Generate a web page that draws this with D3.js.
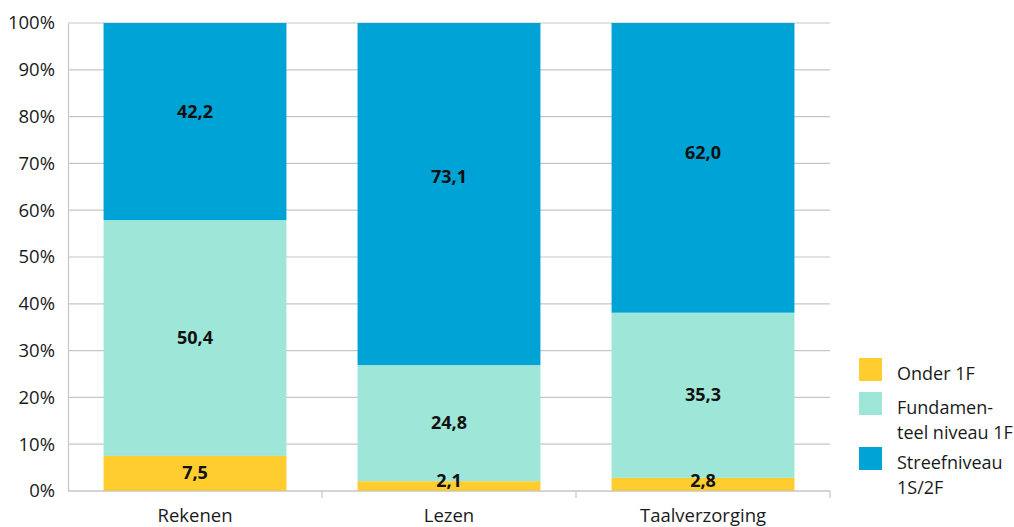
<!DOCTYPE html>
<html>
<head>
<meta charset="utf-8">
<script src="https://cdn.jsdelivr.net/npm/d3@7"></script>
<style>
  body { margin: 0; background: #fff; }
  text { font-family: "Open Sans", "Noto Sans", sans-serif; }
</style>
</head>
<body>
<div class="canvas"></div>
<script>
const categories = ['Rekenen', 'Lezen', 'Taalverzorging'];
const series = ['Onder 1F', 'Fundamenteel niveau 1F', 'Streefniveau 1S/2F'];
const onder = [7.5, 2.1, 2.8];
const fundamenteel = [50.4, 24.8, 35.3];
const streef = [42.2, 73.1, 62.0];
const yTicks = [0, 10, 20, 30, 40, 50, 60, 70, 80, 90, 100];
const legendLines = [['Onder 1F'], ['Fundamen-', 'teel niveau 1F'], ['Streefniveau', '1S/2F']];
const colors = ['#ffcd2e', '#9ee7d8', '#00a3d5'];

const svg = d3.select('.canvas')
  .append('svg')
  .attr('width', 1014)
  .attr('height', 527);

const x = d3.scaleBand()
  .domain(categories)
  .range([68, 830])
  .paddingInner(0.28)
  .paddingOuter(0.14);

const y = d3.scaleLinear()
  .domain([0, 100])
  .range([491, 23])
  .clamp(true);

// gridlines
svg.append('g')
  .selectAll('line')
  .data(yTicks)
  .join('line')
  .attr('x1', 68)
  .attr('x2', 830)
  .attr('y1', d => y(d))
  .attr('y2', d => y(d))
  .attr('stroke', '#c6c6c6')
  .attr('stroke-width', 1.2);

// y axis
const yAxis = svg.append('g')
  .attr('transform', 'translate(68,0)')
  .call(d3.axisLeft(y).tickValues(yTicks).tickFormat(d => d + '%').tickSize(0).tickPadding(13));
yAxis.select('.domain').attr('stroke', '#c6c6c6').attr('stroke-width', 1.2);
yAxis.selectAll('text').attr('font-size', 18.5).attr('fill', '#1a1a1a').attr('font-family', '"Open Sans", sans-serif');

// stack
const rows = categories.map((c, i) => ({ cat: c, s0: onder[i], s1: fundamenteel[i], s2: streef[i] }));
const stacked = d3.stack().keys(['s0', 's1', 's2'])(rows);

svg.append('g')
  .selectAll('g')
  .data(stacked)
  .join('g')
  .attr('fill', (d, i) => colors[i])
  .selectAll('rect')
  .data(d => d)
  .join('rect')
  .attr('x', d => x(d.data.cat))
  .attr('width', x.bandwidth())
  .attr('y', d => y(d[1]))
  .attr('height', d => y(d[0]) - y(d[1]));

// x axis
const xAxis = svg.append('g')
  .attr('transform', 'translate(0,491)');
xAxis.append('line')
  .attr('x1', 68).attr('x2', 830)
  .attr('stroke', '#c6c6c6').attr('stroke-width', 1.2);
xAxis.selectAll('line.tick')
  .data([68 + 254, 68 + 508, 830])
  .join('line')
  .attr('class', 'tick')
  .attr('x1', d => d).attr('x2', d => d)
  .attr('y1', 0).attr('y2', 7)
  .attr('stroke', '#c6c6c6').attr('stroke-width', 1.2);
xAxis.selectAll('text')
  .data(categories)
  .join('text')
  .attr('x', d => x(d) + x.bandwidth() / 2)
  .attr('y', 31)
  .attr('text-anchor', 'middle')
  .attr('font-size', 18.5)
  .attr('fill', '#1a1a1a')
  .text(d => d);

// value labels (drawn after all rects so nothing covers them)
const labels = stacked.flatMap(layer => layer.map(v => ({ v, key: layer.key })));
svg.append('g')
  .selectAll('text')
  .data(labels)
  .join('text')
  .attr('x', d => x(d.v.data.cat) + x.bandwidth() / 2)
  .attr('y', d => {
    let mid = (y(d.v[0]) + y(d.v[1])) / 2;
    if (d.key === 's2') mid -= (y(d.v[0]) - y(d.v[1])) * 0.05;
    return Math.min(mid, 481) + 6;
  })
  .attr('text-anchor', 'middle')
  .attr('font-size', 18)
  .attr('font-weight', 'bold')
  .attr('fill', '#111')
  .text(d => d3.format('.1f')(d.v.data[d.key]).replace('.', ','));

// legend
const legendY = [358, 392, 447];
const legend = svg.append('g')
  .selectAll('g')
  .data(series)
  .join('g')
  .attr('transform', (d, i) => `translate(859,${legendY[i]})`);
legend.append('rect')
  .attr('width', 23).attr('height', 23)
  .attr('fill', (d, i) => colors[i]);
legend.append('text')
  .attr('x', 38)
  .attr('font-size', 18)
  .attr('fill', '#1a1a1a')
  .selectAll('tspan')
  .data((d, i) => legendLines[i])
  .join('tspan')
  .attr('x', 38)
  .attr('y', (d, j) => 22 + j * 25)
  .text(d => d);
</script>
</body>
</html>
